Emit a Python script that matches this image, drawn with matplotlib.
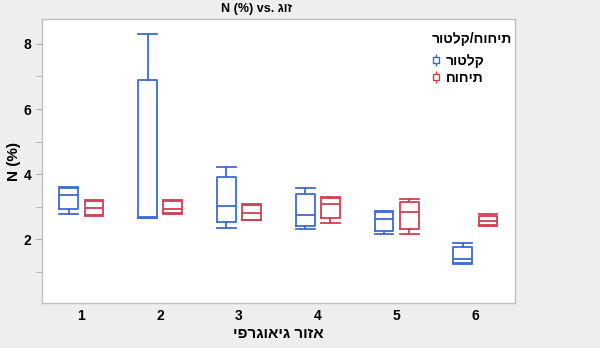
import matplotlib
matplotlib.use("Agg")
import matplotlib.pyplot as plt
from matplotlib.path import Path
from matplotlib.lines import Line2D

# -- data -------------------------------------------------------------
groups = [1, 2, 3, 4, 5, 6]

# קלטור (blue)
klt_lo = [2.77, 2.64, 2.35, 2.31, 2.17, 1.25]
klt_q1 = [2.92, 2.65, 2.53, 2.40, 2.25, 1.27]
klt_med = [3.37, 2.68, 3.02, 2.76, 2.63, 1.38]
klt_q3 = [3.56, 6.89, 3.91, 3.40, 2.85, 1.75]
klt_hi = [3.60, 8.29, 4.21, 3.58, 2.88, 1.90]

# תיחוח (red)
tch_lo = [2.72, 2.79, 2.58, 2.51, 2.15, 2.42]
tch_q1 = [2.76, 2.81, 2.59, 2.65, 2.31, 2.43]
tch_med = [2.97, 2.94, 2.82, 3.09, 2.84, 2.56]
tch_q3 = [3.17, 3.17, 3.04, 3.28, 3.14, 2.70]
tch_hi = [3.20, 3.20, 3.08, 3.30, 3.23, 2.79]

BLUE = "#3b6bd6"
RED = "#d23f52"
FONT = ["Liberation Sans", "DejaVu Sans"]


def heb(s):
    # matplotlib has no bidi support: flip RTL text into visual order
    return s[::-1]


def stats(lo, q1, med, q3, hi):
    return [dict(whislo=a, q1=b, med=c, q3=d, whishi=e, fliers=[])
            for a, b, c, d, e in zip(lo, q1, med, q3, hi)]


plt.rcParams["font.family"] = FONT
plt.rcParams["font.weight"] = "bold"

fig = plt.figure(figsize=(6.0, 3.48), dpi=100, facecolor="#eeeeee")
ax = fig.add_axes([0.07, 0.129, 0.788, 0.816])
ax.set_facecolor("white")

for st, off, col in [(stats(klt_lo, klt_q1, klt_med, klt_q3, klt_hi), -0.16, BLUE),
                     (stats(tch_lo, tch_q1, tch_med, tch_q3, tch_hi), 0.16, RED)]:
    props = dict(color=col, linewidth=1.3)
    ax.bxp(st, positions=[g + off for g in groups], widths=0.24,
           showfliers=False, boxprops=props, whiskerprops=props,
           capprops=props, medianprops=props, capwidths=0.24,
           manage_ticks=False)

ax.set_xlim(0.5, 6.5)
ax.set_ylim(0.04, 8.76)
ax.set_xticks(groups)
ax.set_xticklabels([str(g) for g in groups], fontsize=10, fontweight="bold")
ax.set_yticks([2, 4, 6, 8])
ax.set_yticks([1, 3, 5, 7], minor=True)
ax.tick_params(axis="y", which="both", length=4, color="#aaaaaa", labelsize=10)
ax.tick_params(axis="x", length=0, pad=4)
for sp in ax.spines.values():
    sp.set_color("#c0c0c0")
    sp.set_linewidth(1.0)

ax.set_ylabel("N (%)", fontsize=11, fontweight="bold", labelpad=2)
ax.set_xlabel(heb("אזור גיאוגרפי"), fontsize=11, fontweight="bold", labelpad=3)
fig.text(0.428, 0.975, "N (%) vs. " + heb("זוג"), ha="center", va="center",
         fontsize=9, fontweight="bold")

# little box-plot glyph for the legend
glyph = Path([(-0.5, -0.45), (0.5, -0.45), (0.5, 0.45), (-0.5, 0.45), (-0.5, -0.45),
              (0, 0.45), (0, 1.0), (0, -0.45), (0, -1.0)],
             [Path.MOVETO, Path.LINETO, Path.LINETO, Path.LINETO, Path.CLOSEPOLY,
              Path.MOVETO, Path.LINETO, Path.MOVETO, Path.LINETO])
handles = [Line2D([], [], linestyle="none", marker=glyph, markersize=9,
                  markerfacecolor="none", markeredgecolor=c, markeredgewidth=1.0)
           for c in (BLUE, RED)]
leg = ax.legend(handles, [heb("קלטור"), heb("תיחוח")],
                title=heb("תיחוח/קלטור"), loc="upper right",
                bbox_to_anchor=(1.02, 1.0), frameon=False, fontsize=10,
                title_fontsize=10, handlelength=0.6, handletextpad=0.4,
                labelspacing=0.2, alignment="left")
leg.get_title().set_fontweight("bold")
# push the entries a bit further below the title, like the reference
leg._legend_box.sep = 6

fig.savefig("out.png", dpi=100, facecolor=fig.get_facecolor())
